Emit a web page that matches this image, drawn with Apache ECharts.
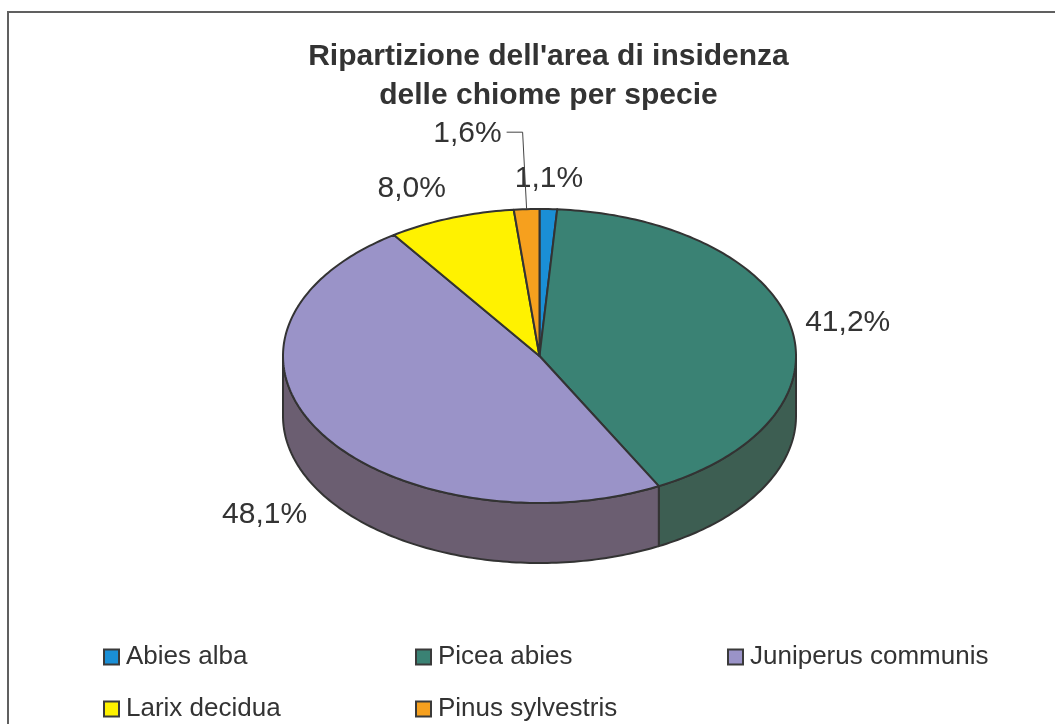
<!DOCTYPE html>
<html>
<head>
<meta charset="utf-8">
<script src="https://cdn.jsdelivr.net/npm/echarts@6/dist/echarts.min.js"></script>
<style>
  html, body { margin: 0; background: #fff; }
  #chart { width: 1055px; height: 724px; }
</style>
</head>
<body>
<div id="chart"></div>
<script>
// dati
const species = ['Abies alba', 'Picea abies', 'Juniperus communis', 'Larix decidua', 'Pinus sylvestris'];
const shares = [1.1, 41.2, 48.1, 8.0, 1.6];
const topColors = ['#1A8FD6', '#3A8274', '#9A93C8', '#FFF200', '#F6A01E'];
const sideColors = ['#1B5C85', '#3D5E52', '#6B5E71', '#A39B00', '#9E6714'];
const leaderLabels = ['Pinus sylvestris'];
const titleLines = ["Ripartizione dell'area di insidenza", 'delle chiome per specie'];

// geometria della torta "3D"
const CX = 539.5, CY = 356, RX = 256.5, RY = 147, DEPTH = 60;
const EDGE = '#333';
const FONT = '"Liberation Sans", Arial, sans-serif';

// angoli cumulati, in gradi, in senso orario dalle ore 12
const starts = [];
let acc = 0;
shares.forEach(v => { starts.push(acc); acc += v * 3.6 });

function pt(deg, dy) {
  const r = deg * Math.PI / 180;
  return [CX + RX * Math.sin(r), CY - RY * Math.cos(r) + (dy || 0)];
}
function arc(a, b, dy) {
  const n = Math.max(2, Math.ceil(Math.abs(b - a)));
  const out = [];
  for (let k = 0; k <= n; k++) out.push(pt(a + (b - a) * k / n, dy));
  return out;
}
function fmt(v) { return v.toFixed(1).replace('.', ',') + '%' }

function renderSlice(params, api) {
  const i = params.seriesIndex;
  const a0 = starts[i], a1 = a0 + shares[i] * 3.6, mid = (a0 + a1) / 2;
  const children = [];

  // fianco visibile (metà anteriore)
  const s0 = Math.max(a0, 90), s1 = Math.min(a1, 270);
  if (s1 > s0) {
    children.push({
      type: 'polygon', z2: 1,
      shape: { points: arc(s0, s1, 0).concat(arc(s1, s0, DEPTH)) },
      style: { fill: sideColors[i], stroke: EDGE, lineWidth: 2, lineJoin: 'round' }
    });
  }
  // faccia superiore
  children.push({
    type: 'polygon', z2: 10,
    shape: { points: [[CX, CY]].concat(arc(a0, a1, 0)) },
    style: { fill: topColors[i], stroke: EDGE, lineWidth: 2, lineJoin: 'round' }
  });

  // etichetta
  const r = mid * Math.PI / 180, sn = Math.sin(r), cs = Math.cos(r);
  const p = pt(mid, cs < 0 ? DEPTH : 0);
  const ts = { text: fmt(shares[i]), fill: '#333', font: '30px ' + FONT };
  if (leaderLabels.indexOf(species[i]) >= 0) {
    const elbow = [p[0] - 4, p[1] - 77];
    children.push({
      type: 'polyline', z2: 20,
      shape: { points: [p, elbow, [elbow[0] - 16, elbow[1]]] },
      style: { stroke: '#444', lineWidth: 1, fill: null }
    });
    Object.assign(ts, { x: elbow[0] - 21, y: elbow[1] + 2, align: 'right', verticalAlign: 'middle' });
  } else {
    const g = 15;
    Object.assign(ts, {
      x: p[0] + g * sn,
      y: p[1] - g * cs,
      align: sn > 0.3 ? 'left' : sn < -0.3 ? 'right' : 'center',
      verticalAlign: cs > 0.3 ? 'bottom' : cs < -0.3 ? 'top' : 'middle'
    });
  }
  children.push({ type: 'text', z2: 20, style: ts });
  return { type: 'group', children: children };
}

const legendLeft = [103, 415, 727];
const legendTop = [644, 696];

const chart = echarts.init(document.getElementById('chart'));
chart.setOption({
  animation: false,
  backgroundColor: '#fff',
  graphic: [
    {
      type: 'rect', silent: true,
      shape: { x: 8, y: 12, width: 1200, height: 900 },
      style: { fill: null, stroke: '#606060', lineWidth: 2 }
    }
  ].concat(titleLines.map((t, k) => ({
    type: 'text', silent: true,
    x: 548.5, y: 57 + k * 39,
    style: {
      text: t, align: 'center', verticalAlign: 'middle',
      font: 'bold 30px ' + FONT, fill: '#333'
    }
  }))),
  legend: species.map((n, i) => ({
    data: [{ name: n, itemStyle: { color: topColors[i] } }],
    left: legendLeft[i % 3],
    top: legendTop[Math.floor(i / 3)],
    padding: 0,
    icon: 'rect',
    itemWidth: 15,
    itemHeight: 15,
    selectedMode: false,
    itemStyle: { borderColor: '#3a3a3a', borderWidth: 2 },
    textStyle: { fontFamily: FONT, fontSize: 26, color: '#333', padding: [0, 0, 0, 2] }
  })),
  series: species.map((n, i) => ({
    type: 'custom',
    name: n,
    coordinateSystem: 'none',
    silent: true,
    itemStyle: { color: topColors[i] },
    renderItem: renderSlice,
    data: [[i]]
  }))
});
</script>
</body>
</html>
